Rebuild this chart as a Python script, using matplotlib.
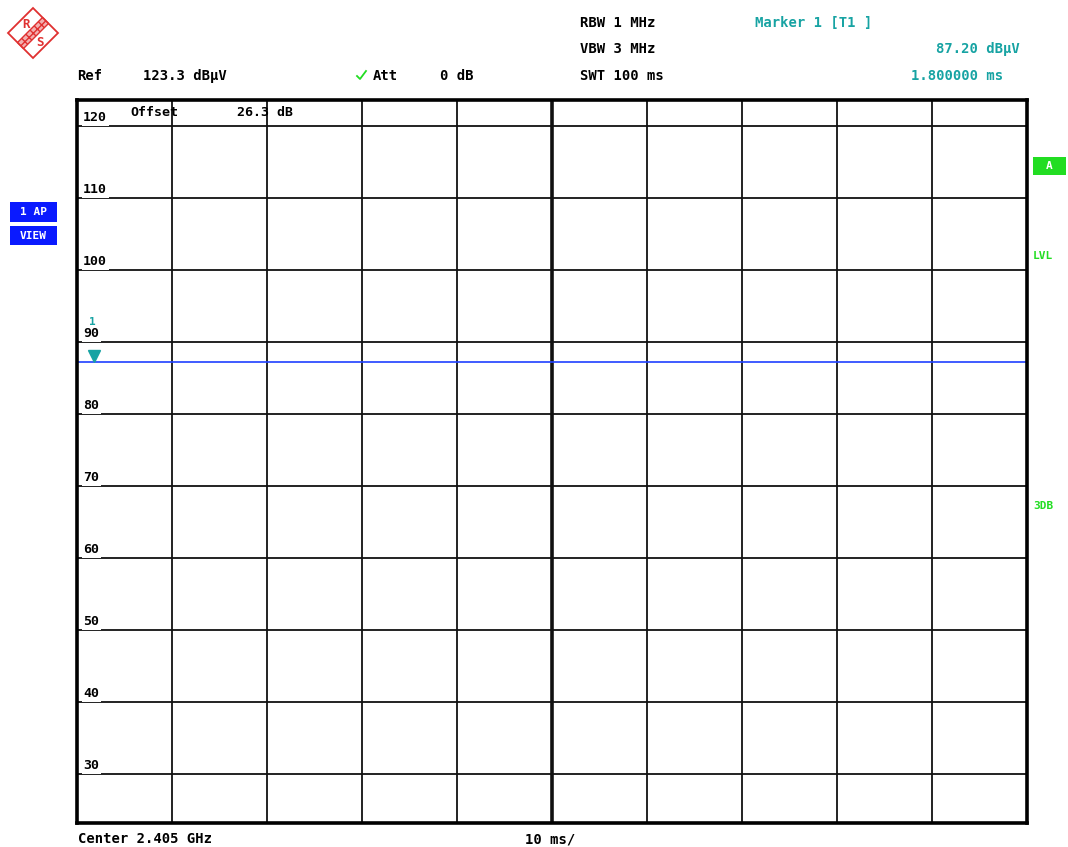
import matplotlib
matplotlib.use("Agg")
import matplotlib.pyplot as plt
from matplotlib.patches import Rectangle, Polygon
from matplotlib.lines import Line2D
from matplotlib.transforms import ScaledTranslation

# ---- data ----
time_ms = [0, 100]
level_dbuv = [87.2, 87.2]
marker_time = 1.8
marker_level = 87.2
y_ticks = [30, 40, 50, 60, 70, 80, 90, 100, 110, 120]
x_grid = [0, 10, 20, 30, 40, 50, 60, 70, 80, 90, 100]

W, H = 1068, 847
fig = plt.figure(figsize=(W / 100, H / 100), dpi=100)
fig.patch.set_facecolor("white")

L, R, T, B = 77, 1027, 100, 823
ax = fig.add_axes([L / W, 1 - B / H, (R - L) / W, (B - T) / H])
ax.set_xlim(0, 100)
ax.set_ylim(23.2, 123.6)
ax.set_xticks([])
ax.set_yticks([])
for s in ax.spines.values():
    s.set_linewidth(2.6)
    s.set_color("black")
    s.set_zorder(10)

grid_c = "#111111"
for x in x_grid[1:-1]:
    ax.axvline(x, color=grid_c, lw=2.6 if x == 50 else 1.3, zorder=1)
for y in y_ticks:
    ax.axhline(y, color=grid_c, lw=1.3, zorder=1)

mono = dict(family="DejaVu Sans Mono", fontweight="bold")
teal = "#17a3a3"
green = "#22dd22"

# y tick labels inside plot
for y in y_ticks:
    ax.annotate(str(y), xy=(0, y), xytext=(4.5, 1.2), textcoords="offset points",
                ha="left", va="bottom", fontsize=9.5, color="black", zorder=3,
                bbox=dict(boxstyle="square,pad=0.12", fc="white", ec="none"), **mono)

# trace
ax.plot(time_ms, level_dbuv, color="#1f3fff", lw=1.2, zorder=4)

# marker (triangle sits just above the trace)
ax.plot([marker_time], [marker_level], marker="v", color=teal, markersize=8,
        linestyle="none", zorder=5,
        transform=ax.transData + ScaledTranslation(0, 6 / 100, fig.dpi_scale_trans))
ax.annotate("1", xy=(marker_time, marker_level), xytext=(-1.5, 25), textcoords="offset points",
            ha="center", va="bottom", fontsize=8, color=teal, zorder=6, **mono)


def ftxt(px, py, s, ha="left", color="black", size=10, **kw):
    fig.text(px / W, 1 - py / H, s, ha=ha, va="center", color=color, fontsize=size, **mono, **kw)


# offset text inside plot
ftxt(130, 112, "Offset", size=9.5)
ftxt(237, 112, "26.3 dB", size=9.5)

# header
ftxt(580, 23, "RBW 1 MHz")
ftxt(580, 49, "VBW 3 MHz")
ftxt(580, 76, "SWT 100 ms")
ftxt(755, 23, "Marker 1 [T1 ]", color=teal)
ftxt(1020, 49, "87.20 dB\u00b5V", ha="right", color=teal)
ftxt(1003, 76, "1.800000 ms", ha="right", color=teal)
ftxt(77, 76, "Ref")
ftxt(143, 76, "123.3 dB\u00b5V")
ftxt(373, 76, "Att")
ftxt(440, 76, "0 dB")
# green check mark
fig.add_artist(Line2D([357 / W, 360 / W, 366 / W], [1 - 76 / H, 1 - 79 / H, 1 - 71 / H],
                      color=green, lw=1.3))

# bottom
ftxt(78, 839, "Center 2.405 GHz")
ftxt(525, 839, "10 ms/")


# side boxes
def fbox(x0, y0, x1, y1, fc):
    fig.add_artist(Rectangle((x0 / W, 1 - y1 / H), (x1 - x0) / W, (y1 - y0) / H,
                             facecolor=fc, edgecolor="none", transform=fig.transFigure))


fbox(10, 202, 57, 222, "#0a1aff")
fbox(10, 226, 57, 245, "#0a1aff")
ftxt(33, 212, "1 AP", ha="center", color="white", size=8)
ftxt(33, 236, "VIEW", ha="center", color="white", size=8)
fbox(1033, 157, 1066, 175, "#22dd22")
ftxt(1049, 166, "A", ha="center", color="white", size=8)
ftxt(1033, 256, "LVL", color=green, size=8)
ftxt(1033, 506, "3DB", color=green, size=8)

# R&S logo
red = "#e03030"
cx, cy, r = 33, 33, 25


def P(x, y):
    return (x / W, 1 - y / H)


fig.add_artist(Polygon([P(cx, cy - r), P(cx + r, cy), P(cx, cy + r), P(cx - r, cy)],
                       closed=True, fill=False, edgecolor=red, lw=1.3, transform=fig.transFigure))
fig.add_artist(Polygon([P(42.5, 17.5), P(48.5, 23.5), P(23.5, 48.5), P(17.5, 42.5)],
                       closed=True, facecolor="#f3b0b0", edgecolor=red, lw=1.0,
                       transform=fig.transFigure, hatch="xxxx"))
ftxt(26, 25, "R", ha="center", color=red, size=9)
ftxt(40, 42, "S", ha="center", color=red, size=9)

fig.savefig("out.png", dpi=100)
